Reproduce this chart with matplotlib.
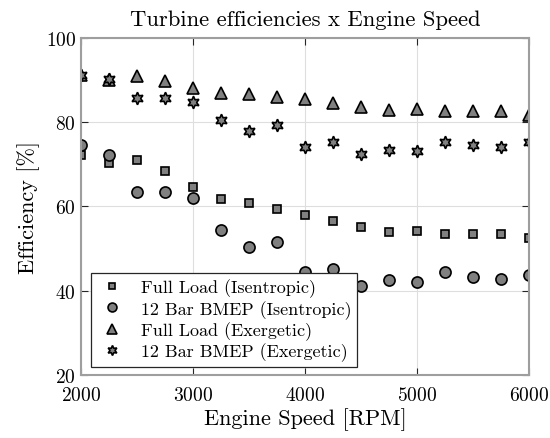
import matplotlib
matplotlib.use('Agg')
import matplotlib.pyplot as plt
import numpy as np

plt.rcParams['font.family'] = 'serif'
plt.rcParams['font.serif'] = ['cmr10']
plt.rcParams['mathtext.fontset'] = 'cm'
plt.rcParams['axes.formatter.use_mathtext'] = True

rpm = [2000, 2250, 2500, 2750, 3000, 3250, 3500, 3750, 4000,
       4250, 4500, 4750, 5000, 5250, 5500, 5750, 6000]

full_isen = [72.1, 70.3, 70.9, 68.3, 64.5, 61.8, 60.8, 59.4, 58.0,
             56.4, 55.0, 53.8, 54.2, 53.4, 53.4, 53.4, 52.4]
bmep_isen = [74.6, 72.1, 63.5, 63.4, 62.0, 54.5, 50.3, 51.5, 44.4,
             45.2, 41.2, 42.5, 42.0, 44.5, 43.3, 42.7, 43.7]
full_exer = [91.2, 90.0, 91.0, 89.8, 88.1, 86.9, 86.6, 86.0, 85.4,
             84.4, 83.6, 82.9, 83.1, 82.6, 82.5, 82.5, 81.7]
bmep_exer = [91.2, 90.1, 85.6, 85.6, 84.8, 80.4, 77.8, 79.2, 74.1,
             75.2, 72.3, 73.3, 73.0, 75.2, 74.6, 74.1, 75.3]

fig = plt.figure(figsize=(5.5, 4.39), dpi=100)
ax = fig.add_axes([0.147, 0.1435, 0.815, 0.7685])

grey = (0.5, 0.5, 0.5)
ax.plot(rpm, full_isen, 's', ms=6, mfc=grey, mec='k', mew=1.2, label='Full Load (Isentropic)')
ax.plot(rpm, bmep_isen, 'o', ms=8, mfc=grey, mec='k', mew=1.2, label='12 Bar BMEP (Isentropic)')
ax.plot(rpm, full_exer, '^', ms=9, mfc=grey, mec='k', mew=1.2, label='Full Load (Exergetic)')
ax.plot(rpm, bmep_exer, marker=(6, 1, 0), ls='none', ms=9, mfc=grey, mec='k', mew=1.2,
        label='12 Bar BMEP (Exergetic)')

ax.set_xlim(2000, 6000)
ax.set_ylim(20, 100)
ax.set_xticks([2000, 3000, 4000, 5000, 6000])
ax.set_yticks([20, 40, 60, 80, 100])
ax.grid(True, color=(0.87, 0.87, 0.87), lw=0.8)
ax.set_axisbelow(True)
ax.tick_params(direction='in', top=True, right=True, labelsize=14, length=5, width=0.8,
               colors=(0.15, 0.15, 0.15))
ax.tick_params(axis='x', pad=8)
for s in ax.spines.values():
    s.set_color((0.62, 0.62, 0.62))
    s.set_linewidth(1.5)
for lbl in ax.get_xticklabels() + ax.get_yticklabels():
    lbl.set_color('k')

ax.set_xlabel('Engine Speed [RPM]', fontsize=16, labelpad=2)
ax.set_ylabel('Efficiency [%]', fontsize=16)
ax.set_title('Turbine efficiencies x Engine Speed', fontsize=16.3, pad=9)

leg = ax.legend(loc='lower left', bbox_to_anchor=(0.022, 0.024), borderaxespad=0,
                fontsize=13, markerscale=0.8,
                frameon=True, fancybox=False, edgecolor=(0.15, 0.15, 0.15), framealpha=1,
                handletextpad=0.7, borderpad=0.3, labelspacing=0.15, handlelength=1.8)
leg.get_frame().set_linewidth(0.9)

fig.savefig('out.png', dpi=100)
